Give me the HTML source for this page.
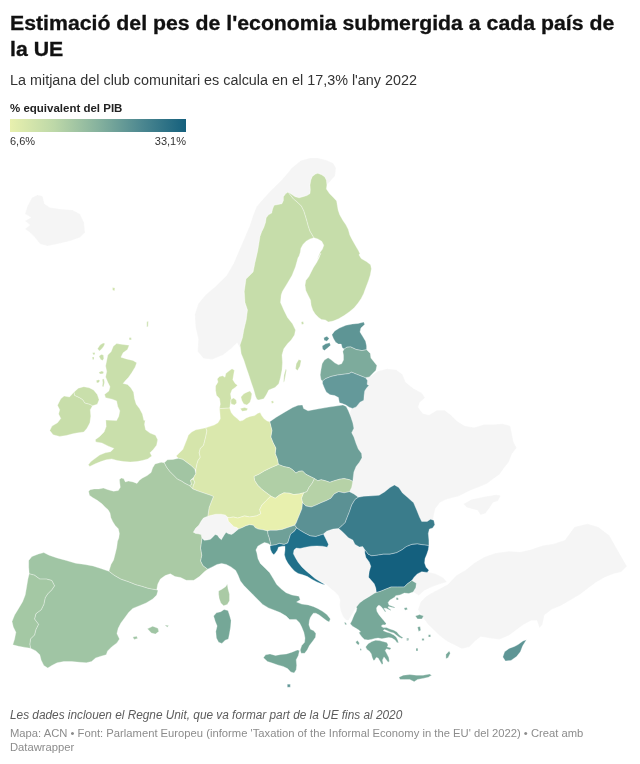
<!DOCTYPE html>
<html lang="ca">
<head>
<meta charset="utf-8">
<title>Estimació del pes de l'economia submergida a cada país de la UE</title>
<style>
html,body{margin:0;padding:0;background:#fff;}
body{width:640px;height:764px;position:relative;overflow:hidden;font-family:"Liberation Sans",sans-serif;color:#181818;}
.abs{position:absolute;white-space:nowrap;margin:0;padding:0;font-weight:normal;}
#title{left:10px;top:10px;font-size:20px;line-height:26px;font-weight:bold;color:#111;-webkit-text-stroke:0.3px #111;transform:scaleX(1.0632);transform-origin:0 0;}
#sub{left:10px;top:70px;font-size:14px;line-height:20px;color:#333;transform:scaleX(1.0265);transform-origin:0 0;}
#legt{left:10px;top:100.5px;font-size:11px;line-height:14px;font-weight:bold;color:#222;transform:scaleX(1.045);transform-origin:0 0;}
#grad{left:10px;top:119px;width:176px;height:13px;background:linear-gradient(90deg,#e8f0ae,#bdd8a8,#86b29e,#4c8790,#15607d);}
#lmin{left:10px;top:133.5px;font-size:11px;line-height:14px;color:#333;}
#lmax{left:150px;top:133.5px;width:36px;text-align:right;font-size:11px;line-height:14px;color:#333;}
#note{left:10px;top:708px;font-size:12px;line-height:15px;font-style:italic;color:#5c5c5c;transform:scaleX(0.985);transform-origin:0 0;}
#foot{left:10px;top:727px;font-size:11px;line-height:13.5px;color:#8c8c8c;transform:scaleX(1.021);transform-origin:0 0;}
#map{position:absolute;left:0;top:0;}
</style>
</head>
<body>
<svg id="map" width="640" height="764" viewBox="0 0 640 764">
<g stroke="#fff" stroke-opacity="0.65" stroke-width="0.5" stroke-linejoin="round">
<path id="c-IS" fill="#f5f5f5" d="M25,213.75L27.5,206L32,197.5L37.5,195L42.5,196L44.5,204L50,207.5L60,209L72.5,210L80,214L84,222.5L85,232.5L80,237.5L70,241L57.5,244L47.5,246L40,244L35,237.5L30,232.5L25,229L30,225L25,221L31,217.5Z"/>
<path id="c-NO" fill="#f5f5f5" d="M288.1,192L291.2,194.1L295.2,196.7L299.1,197.8L303,196.7L306.9,195.6L310,193.6L310.3,189.7L310,185L310.8,180.3L312.3,176.4L315.5,174.1L317.8,173.3L321.7,174.8L324.8,176.9L326.4,180.3L326.9,185L335,176L336,168L333,163L326,160L318,158L310,158L300.8,160.6L292,167.7L283.2,178.3L276.1,185.4L269,192.4L262.7,199.5L256.6,206.6L253.1,215.4L249.6,226L244.3,238.4L239,250.8L233.7,263.2L226.6,275.5L216,286.1L205.4,295L198.3,303.8L194.8,314.4L195.5,326.8L198.3,339.2L197.6,351.6L203.6,358.6L212.4,359.4L223,355.1L231.9,348L237.2,342.7L240,348L242.5,337.5L243.8,330L246.2,320L247.5,310L245,302.5L244.5,295L244.25,291.4L246,279.1L253.1,272L254.9,263.1L257.7,250.8L260,236.6L261.6,231.9L263.9,227.2L265.5,222.5L266.2,217.8L268.6,214.7L271.7,213.1L272.5,209.2L274.1,205.3L278,204.5L281.9,203.8L283.4,200.6L283.4,196.7L285.8,193.6L288.1,192Z"/>
<path id="c-CH" fill="#f5f5f5" d="M201.9,538.1L201.1,534.5L198,533.8L195.6,533.4L193.3,532.2L195.6,528.3L198.8,525.2L201.1,521.2L203.4,518.1L207.8,516.2L211.2,515.3L215.9,514.2L220.9,514.2L225.3,515L227.7,517.3L228.4,521.2L230.8,523.6L233.9,526.7L237,527.5L238.6,529.1L236.2,530.9L233.9,533L231.6,534.5L228.4,533.8L226.1,532.2L224.5,534.5L222.5,537.7L221.4,539.7L219.1,537.7L217.5,535.3L215.2,534.5L212.8,536.9L210.5,539.2L207.3,540L204.2,540.3Z"/>
<path id="c-BALK" fill="#f5f5f5" d="M327.2,547.2L328.5,544.4L327.2,541.6L325.3,537.8L323.4,534.1L326.6,531.2L333.1,529.1L338.6,528.6L341.9,531.2L345.2,534.5L348.4,537.8L352.8,540L355,544.4L359.4,547L362.7,546.6L364.8,549.8L364.8,553.1L365.9,557.5L369.2,561.9L370.8,566.2L369.2,571.7L368.6,577.2L371.4,580.5L374.2,583.8L375.8,588.1L376.4,592.5L376.4,592.5L374.8,593.1L369.4,596.4L363.9,599.7L359.5,603L356.2,607.3L348.4,620.6L345.6,619.7L342.8,615.9L340.9,611.2L339.6,605.6L340,600L338.1,595.3L334.4,591.6L329.7,587.8L325.9,584.1L320.6,581.9L315,578.5L310.3,574.4L305.6,570.6L301.9,566.9L298.1,562.2L295.3,557.5L293.4,553.8L294,550L296.2,548.1L300,548.5L305.6,547.2L311.2,546.2L316.9,545.9L322.5,546.2L327.2,547.2Z"/>
<path id="c-EAST" fill="#f5f5f5" d="M365.6,377.8L371.2,375.9L377.5,371.2L386.9,368.8L396.2,369.7L402.5,374.4L405.6,382.2L413.4,388.4L421.9,393.1L425,397.8L419.7,402.5L418.1,407.2L422.8,413.4L429.1,415L436.9,410.3L444.7,410.3L450.9,415L457.2,421.2L465,425.9L474.4,427.5L483.8,424.4L493.1,424.4L502.5,423.8L510.3,425.9L511.9,433.8L513.4,441.6L516.6,447.8L511.9,454.1L508.8,461.9L504.1,468.1L499.4,474.4L493.1,479.1L486.9,483.8L479.1,486.9L471.2,490L465,493.1L458.8,496.2L452.5,497.8L446.2,499.4L440,502.5L435.3,508.8L433.8,515L433.1,520L434.8,524.7L433.8,520.3L400,530L350,500L340,450L350,412L358,395ZM463.4,504.1L471.2,499.4L479.1,497.8L486.9,496.2L496.2,494.7L500.9,495.6L497.8,500.9L493.1,502.5L490,507.2L485.3,513.4L480.6,515L477.5,510.3L471.2,508.8L466.6,507.2Z"/>
<path id="c-TR" fill="#f5f5f5" d="M427.2,572.4L428.1,571.9L435.6,573.8L443.1,577.5L446.9,582L439.4,584.2L431.9,586.9L424.4,590.6L418.8,595.5L413.1,592L415.8,587.7L416.4,583.3L411.9,580.5L414.1,577.2L417.3,573.9L421.7,571.7L427.2,572.4ZM448,584.2L456.2,575.6L465.6,570L475,562.5L484.4,556.9L495.6,553.1L508.8,551.2L520,552L531.2,549.4L542.5,545.6L553.8,543.8L565,540L574.4,526.9L587.5,523.8L598.4,526.9L609.4,535.6L618.1,550.9L626.9,566.2L621.2,571.9L613.8,573.8L604.4,577.5L595,583.1L587.5,588.8L580,594.4L570.6,600L561.2,605.6L551.9,609.4L544.4,615L542.5,624.4L539.5,628.1L536.9,620.6L531.2,620.6L523.8,624.4L516.2,630L508.8,635.6L499.4,639.4L490,638.2L480.6,636.8L475,641.2L469.4,646.9L461.9,648.8L454.4,645L446.9,641.2L439.4,635.6L433.8,630L428.1,624.4L422.5,616.9L418,609.4L420.6,601.9L426.2,596.2L433.8,591.8L441.2,588Z"/>
<path id="c-SE" fill="#c6ddaa" d="M288.1,192L285.8,193.6L283.4,196.7L283.4,200.6L281.9,203.8L278,204.5L274.1,205.3L272.5,209.2L271.7,213.1L268.6,214.7L266.2,217.8L265.5,222.5L263.9,227.2L261.6,231.9L260,236.6L257.7,250.8L254.9,263.1L253.1,272L246,279.1L244.25,291.4L244.5,295L245,302.5L247.5,310L246.2,320L243.8,330L242.5,337.5L240,345L241.2,353.8L243.8,360L246.2,367.5L248.8,375L251.2,382.5L253.8,390L255.5,396.2L257,399.5L258.8,400L263.8,398.8L266.2,395L268.8,390L275,387.5L278.8,383.8L280.5,377.5L282,370L282.5,362.5L282,355L283.8,348.8L287.5,343.8L291.2,340L294.5,335L295.5,330L292.5,323.8L287.5,317.5L283.8,310L280.5,302.5L281.2,295L282.4,291.4L286.7,284.4L292,275.5L295.5,266.7L298,257.8L299.1,256.1L300.3,252.2L300.9,248.3L303,244.4L306.1,241.2L310,238.9L313.9,237.8L312.3,235L310,231.1L308.4,226.4L306.9,220.9L305.3,215.5L303.8,210.8L301.4,206.1L297.5,202.2L293.6,199.1L290.5,195.2L288.1,192ZM298.8,359.5L301.2,360.5L300,366.2L297.5,370.5L295.5,368.8L296.2,363.8ZM285.8,368.8L286.5,370L284.5,381.2L283.5,382.5L284,375Z"/>
<path id="c-FI" fill="#c6ddaa" d="M288.1,192L291.2,194.1L295.2,196.7L299.1,197.8L303,196.7L306.9,195.6L310,193.6L310.3,189.7L310,185L310.8,180.3L312.3,176.4L315.5,174.1L317.8,173.3L321.7,174.8L324.8,176.9L326.4,180.3L326.9,185L326.4,188.9L329.5,193.6L333.4,197.5L336.6,200.9L337.3,205.3L338.1,210L339.7,214.7L342.8,220.2L345.9,224.8L348.3,229.5L349.8,235L352.2,239.7L355.3,245.2L358.4,250.6L360,253.8L358.9,254.7L361.2,258.6L366.7,261.7L370.6,264.8L371.4,268.8L370.3,275L368.3,281.2L365.9,287.5L363.6,293.8L361.2,298.4L358.1,303.1L354.2,307.8L349.5,311.7L344.1,315.6L338.6,318.8L333.1,321.1L328.4,321.9L325.3,320L321.4,319.5L318.3,317.2L315.2,314.1L312.8,310.2L311.2,305.5L310.5,300L308.1,295.3L305.8,290.6L305,285.2L305.8,280.5L308.9,276.6L311.2,271.9L313.6,267.2L316.7,262.5L319.1,257.8L320.9,253.1L317,260L318.6,256.1L320.2,252.2L322.5,249.1L323.8,245.2L321.7,241.2L317.8,238.9L313.9,237.8L312.3,235L310,231.1L308.4,226.4L306.9,220.9L305.3,215.5L303.8,210.8L301.4,206.1L297.5,202.2L293.6,199.1L290.5,195.2L288.1,192ZM301.2,322L303.2,321.5L303.8,324L301.8,324.5Z"/>
<path id="c-DK" fill="#cfe2ab" d="M219.5,408.6L220.3,403.9L219.5,398.4L216.4,395.3L215.6,390.6L215.6,385.9L218,382L217.2,378.9L219.5,376.6L222.7,375.8L225,377.3L225.8,373.4L228.9,371.1L232,368.8L234.4,370.3L233.6,375L232.8,379.7L235.2,383.6L237.5,385.2L235.2,387.5L232,389.8L230.5,393.8L231.2,398.4L230.5,403.1L229.7,408.1ZM230.5,399.7L233.6,398.1L236.2,400L236.7,403.1L234.4,405L231.2,403.9ZM240.9,396.9L243.8,393.8L246.9,392.2L250,390.9L251.9,393.8L251.2,398.4L250,402.3L246.9,405L243.8,403.9L241.9,400.8ZM240.3,408.6L244.5,407.5L247.7,408.6L246.9,410.6L242.2,411.2ZM271.1,401.2L273.1,400.8L273.8,402.8L271.9,403.4ZM112.5,287.5L115,288L114.5,291L112.5,290Z"/>
<path id="c-GB" fill="#c9dfab" d="M113.3,346.2L116.6,343.6L123.1,344.5L129.2,345.2L127.5,349.5L123.1,352.8L120.9,357.2L126.4,358.9L133,360.5L136.7,362.7L135.2,367L131.9,372.5L128.6,377.3L125.3,380.8L123.1,383.4L127.5,384.5L130.8,387.8L133.6,392.2L134.5,398.8L136.2,404.2L139.5,408.6L142.4,414.1L143.9,420.6L145.2,420L144.5,424.4L145.6,429.8L150,433.1L155.5,435.3L157.7,439.7L156.6,445.2L153.3,449.5L150,452.8L151.8,456.1L147.8,458.9L142.3,460.5L136.9,461.6L130.3,462L123.8,461.6L117.2,460.5L111.7,458.9L106.2,459.8L100.8,461.6L95.3,463.8L89.8,466.4L88.3,464.8L90.9,461.6L95.3,458.3L99.7,455L105.2,452.8L110.6,451.7L113.9,448.4L108.4,446.2L101.9,443L95.8,441.9L95.3,439.7L99.7,436.4L104.1,432L106.2,426.6L105.8,420L116.6,420.6L118.8,416.2L119.8,410.8L117.7,406.4L116.6,400.9L112.2,399.2L105.6,397.7L104.5,394.4L108.9,391.1L110,386.7L107.8,382.3L105.6,376.9L106.7,371.4L105.6,365.9L106.7,360.5L107.8,355L111.1,351.7ZM97.5,348.8L100,345L103.1,343.1L105,343.5L103.8,346.2L101.9,348.8L99.4,351ZM99,356.2L101.2,354.4L103.5,355L103.8,358.8L102.5,360.6L100.6,359.4ZM92.5,352.8L94.8,352.5L95,354.4L93.1,354.8ZM92.2,356.9L94,356.9L94,359.4L92.5,359.4ZM98.8,372.2L101.9,371L103.8,371.9L103.1,373.8L100,374ZM96.2,380.6L98.5,379.8L100,380.6L98.8,382.5L96.9,383.1ZM102.2,379.4L104,378.8L104.5,382.5L103.5,386.9L102.2,386.2L102.8,382.5ZM129,337.8L131.2,337.5L131.5,339.8L129.4,340ZM146.8,321.8L148.3,321.3L148.1,326.6L146.8,327ZM74.6,395.5L73.9,392.2L78.3,388.2L83.8,386.7L89.2,387.8L93.6,390L97.3,394.4L99.1,399.8L97.3,404.2L92.5,405.8L89.2,404.2L84.8,403.1L82.7,399.8L79.4,397.7Z"/>
<path id="c-IE" fill="#c8deaa" d="M73.9,392.2L74.6,395.5L79.4,397.7L82.7,399.8L84.8,403.1L89.2,404.2L92.5,405.8L90.3,409.7L90.8,416.2L89.9,422.8L87,428.3L83.8,432L78.3,432.7L72.8,433.8L66.2,435.5L59.7,436.4L53.1,434.8L49.8,430.5L52,426.1L57.5,422.8L60.8,418.4L58.6,414.1L59.7,409.7L57.5,405.3L60.8,398.8L64.1,396.1L69.5,397Z"/>
<path id="c-NL" fill="#d5e5ab" d="M176.2,456.1L179.5,452.8L182.8,449.5L185,444.1L187.2,438.6L188.3,435.3L191.6,432L195.9,429.8L201.4,428.8L205.8,427.7L206.9,430.9L205.8,436.4L204.7,440.8L203.6,445.2L200.3,448.4L199.2,452.8L200.3,457.2L198.1,460.5L197,463.8L195.9,469.2L194.8,469.2L191.6,465.9L187.2,462.7L182.8,459.4L178.4,458.3Z"/>
<path id="c-BE" fill="#a2c5a3" d="M164.2,462.7L167.5,459.8L173,459.4L178.4,458.3L182.8,459.4L187.2,462.7L191.6,465.9L194.8,469.2L195.9,473.6L193.8,477.3L190.5,480.2L191.6,484.5L189.4,485.6L185,483.4L181.7,481.2L177.3,479.1L174.1,475.8L169.7,471.4L166.4,467Z"/>
<path id="c-LU" fill="#c6ddaa" d="M190.5,480.2L193.3,479.1L194.8,482.3L193.3,485.6L192.7,488.9L189.4,485.6L191.6,484.5Z"/>
<path id="c-ES" fill="#a0c5a4" d="M28.7,560.5L31.9,556.6L38.5,553.9L43.8,552.6L49.1,555.2L57.1,557.9L66.4,560.5L75.7,563.2L85,564.5L93,565.9L100.9,568.5L108.9,571.2L114.2,575.2L120.9,579.1L128.8,581.8L135.5,584.5L142.1,586.3L148.8,588.4L156.7,589.8L158,590.6L156.7,595.1L152.7,599.1L146.1,603L139.5,605.7L132.8,608.4L128.8,612.3L124.8,617.7L120.9,623L118.2,628.3L116.9,633.6L119.5,638.9L116.9,642.9L111.6,646.9L107.6,650.9L106.2,654.8L100.9,656.2L95.6,658L91.6,661.5L86.3,662.8L79.7,662.3L71.7,661.5L63.8,661.5L57.1,662.8L51.8,665.5L47.8,668.1L43.8,665.5L41.2,660.2L39.8,654.8L35.9,650.9L30.5,648.2L29.8,644.2L30.5,638.9L34.5,634.9L35.9,629.6L38.5,624.3L34.5,619L35.9,613.7L41.2,609.7L43.8,604.4L45.2,597.7L47.8,593.8L51.8,589.8L54.5,585.8L51.8,580.5L46.5,579.1L39.8,579.1L34.5,575.2L29.2,573.8L28.7,567.2ZM147.4,628.8L152.7,626.2L158,628.3L158.8,631.5L155.4,634.1L151.4,633.1ZM164.7,625.1L168.7,625.6L167.3,627.2ZM132.8,637L136.8,636.2L137.6,638.4L134.1,639.4Z"/>
<path id="c-PT" fill="#a4c8a4" d="M29.2,573.8L34.5,575.2L39.8,579.1L46.5,579.1L51.8,580.5L54.5,585.8L51.8,589.8L47.8,593.8L45.2,597.7L43.8,604.4L41.2,609.7L35.9,613.7L34.5,619L38.5,624.3L35.9,629.6L34.5,634.9L30.5,638.9L29.8,644.2L30.5,648.2L25.2,647.4L18.6,646.3L12.8,644.8L14.6,638.9L15.9,632.3L13.3,627L12,621.6L14.6,615L18.6,608.4L22.6,601.7L25.2,595.1L26.6,587.1L27.9,579.1Z"/>
<path id="c-PL" fill="#6d9f98" d="M269.7,421.7L276.2,417.3L285,411.9L292.7,407.5L298.1,405.3L302.5,404.9L303.6,408.6L308,410.8L313.4,409.7L320,408.6L328.8,407.1L337.5,405.8L343,404.9L346.2,406.4L346.2,406.4L348.4,410.8L350.6,416.2L352.8,422.8L353.9,428.3L351.7,432.7L353.9,437L356.1,443.6L358.3,449.1L361.6,453.4L362,457.8L359.4,462.2L356.1,466.6L353.9,472L353.2,477.5L352.8,481.4L352.8,481.4L349.5,479.7L344.1,478.6L339.7,479.2L334.2,480.8L329.8,482.3L325.5,480.8L321.1,479.7L317.8,480.8L314.5,478.6L314.5,478.6L310.2,476.4L305.8,474.2L302.5,470.9L298.6,471.4L295.9,473.1L292.7,469.8L289.4,467.7L283.9,466.6L278.4,464.4L278.4,464.4L277.3,458.9L275.2,453.4L275.8,448L273,442.5L270.8,437L271.9,430.5L270.8,426.1L269.7,421.7Z"/>
<path id="c-CZ" fill="#b0cfa6" d="M278.4,464.4L283.9,466.6L289.4,467.7L292.7,469.8L295.9,473.1L298.6,471.4L302.5,470.9L305.8,474.2L310.2,476.4L314.5,478.6L314.5,478.6L312.3,483L309.1,487.3L306.9,491.7L303.6,492.8L303.6,492.8L299.2,493.9L293.8,494.6L289.4,493.2L283.9,492.8L279.5,495L275.2,498.3L270.8,496.1L270.8,496.1L266.4,492.8L262,489.5L257.7,485.2L254.8,480.8L253.9,476.4L258.8,474.2L264.2,470.9L270.8,467.7L278.4,464.4Z"/>
<path id="c-SK" fill="#b6d2a7" d="M314.5,478.6L317.8,480.8L321.1,479.7L325.5,480.8L329.8,482.3L334.2,480.8L339.7,479.2L344.1,478.6L349.5,479.7L352.8,481.4L352.8,481.4L351.7,487.3L349.5,491.7L349.5,491.7L344.1,492.8L338.6,491.7L334.2,493.9L330.9,498.3L326.6,500.5L321.1,502.7L316.7,504.8L311.2,507L305.8,505.9L302.5,502.7L302.5,502.7L301.4,498.3L303.6,492.8L303.6,492.8L306.9,491.7L309.1,487.3L312.3,483L314.5,478.6Z"/>
<path id="c-DE" fill="#dae8ad" d="M205.8,427.7L209.4,426.6L214.1,425L218,422.7L220.3,418.8L220,414.1L219.5,408.6L229.7,408.1L231.2,412.5L233.6,415.6L237.5,418.8L239.8,421.1L243,420.3L246.1,418L250,416.4L254.7,415.6L257.8,413.3L260.2,412.5L261.7,415.6L264.1,418.8L267.2,421.1L269.7,421.7L269.7,421.7L270.8,426.1L271.9,430.5L270.8,437L273,442.5L275.8,448L275.2,453.4L277.3,458.9L278.4,464.4L278.4,464.4L270.8,467.7L264.2,470.9L258.8,474.2L253.9,476.4L254.8,480.8L257.7,485.2L262,489.5L266.4,492.8L270.8,496.1L270.8,496.1L266.2,500.6L261.9,505L259.7,509.4L260.8,513.8L256.4,515.9L249.8,517L244.4,515.9L237.8,518.1L233.4,517L229.1,517.7L227.7,517.3L227.7,517.3L225.3,515L220.9,514.2L215.9,514.2L211.2,515.3L207.8,516.2L207.8,516.2L209.1,507.5L211.2,502L213.4,496.6L211.2,495.5L204.7,493.3L198.1,491.1L192.7,488.9L192.7,488.9L193.3,485.6L194.8,482.3L193.3,479.1L193.3,479.1L193.8,477.3L195.9,473.6L195.9,469.2L195.9,469.2L197,463.8L198.1,460.5L200.3,457.2L199.2,452.8L200.3,448.4L203.6,445.2L204.7,440.8L205.8,436.4L206.9,430.9L205.8,427.7Z"/>
<path id="c-AT" fill="#e8f0ae" d="M270.8,496.1L275.2,498.3L279.5,495L283.9,492.8L289.4,493.2L293.8,494.6L299.2,493.9L303.6,492.8L303.6,492.8L301.4,498.3L302.5,502.7L301.9,508.8L300,513.4L298.1,518.1L296.2,522.8L294.8,525.2L294.8,525.2L287.8,527.5L282.2,529.4L276.6,530.3L270,530.3L267.5,530.9L262.8,529.8L258.1,529.1L255,527.5L253.4,525.2L249.5,524.7L245.6,525.9L242.5,527.5L238.6,529.1L237,527.5L233.9,526.7L230.8,523.6L228.4,521.2L227.7,517.3L229.1,517.7L233.4,517L237.8,518.1L244.4,515.9L249.8,517L256.4,515.9L260.8,513.8L259.7,509.4L261.9,505L266.2,500.6L270.8,496.1Z"/>
<path id="c-HU" fill="#5b9194" d="M302.5,502.7L305.8,505.9L311.2,507L316.7,504.8L321.1,502.7L326.6,500.5L330.9,498.3L334.2,493.9L338.6,491.7L344.1,492.8L349.5,491.7L353.9,493.9L358.3,497.2L355,499.5L351.7,505L349.5,511.6L347.3,517L345.2,522.5L341.9,525.8L338.6,528.6L333.1,529.1L326.6,531.2L323.4,534.1L320.6,535L315.9,536.5L310.3,535.9L304.7,533.1L300,530.3L296.6,527.9L294.8,525.2L294.8,525.2L296.2,522.8L298.1,518.1L300,513.4L301.9,508.8L302.5,502.7Z"/>
<path id="c-SI" fill="#6fa098" d="M294.8,525.2L287.8,527.5L282.2,529.4L276.6,530.3L270,530.3L267.5,530.9L267.8,534.1L269.1,537.8L270,541.6L270.9,545.5L275.6,544.8L279.4,543.4L284.1,544.4L287.8,542.9L289.1,538.8L290.6,534.1L294.4,531.2L296.6,527.9L294.8,525.2Z"/>
<path id="c-HR" fill="#20708a" d="M296.6,527.9L300,530.3L304.7,533.1L310.3,535.9L315.9,536.5L320.6,535L323.4,534.1L325.3,537.8L327.2,541.6L328.5,544.4L327.2,547.2L322.5,546.2L316.9,545.9L311.2,546.2L305.6,547.2L300,548.5L296.2,548.1L294,550L293.4,553.8L295.3,557.5L298.1,562.2L301.9,566.9L305.6,570.6L310.3,574.4L315,578.5L320.6,581.9L325.3,584.7L322.5,584.3L316.9,581.9L312.2,579.6L307.5,576.6L302.8,574.8L298.1,573.4L294.4,571L291,567.2L287.8,563.1L285.6,559L284.4,554.7L285,550L285,546.2L282.2,546.2L278.4,547.2L277.5,550L275.6,552.8L273.8,554.7L271.9,552.8L270.4,549.6L270,546.2L270.9,545.5L275.6,544.8L279.4,543.4L284.1,544.4L287.8,542.9L289.1,538.8L290.6,534.1L294.4,531.2L296.6,527.9Z"/>
<path id="c-RO" fill="#3a7c8b" d="M358.3,497.3L363.8,496.2L372.5,495.8L379.1,495.2L384.5,491.9L390,487.5L394.4,484.9L398.8,487.5L402.5,493L407.5,497.3L413.6,502.8L416.9,510.5L419.5,517L421.7,521.4L427.2,521.4L430.5,519.2L433.8,520.3L434.8,524.7L432.7,528L429.4,529.1L428.3,533.4L428.9,540L428.9,545.5L422.8,544.8L417.3,543.9L411.9,544.4L406.4,546.6L402,549.8L396.6,552.7L390,554.2L383.4,554.2L376.9,555.3L371.4,555.8L368.1,554.2L364.8,549.8L362.7,546.6L359.4,547L355,544.4L352.8,540L348.4,537.8L345.2,534.5L341.9,531.2L338.6,528.6L341.9,525.8L345.2,522.5L347.3,517L349.5,511.6L351.7,505L355,499.5L358.3,497.3Z"/>
<path id="c-BG" fill="#14607e" d="M364.8,549.8L368.1,554.2L371.4,555.8L376.9,555.3L383.4,554.2L390,554.2L396.6,552.7L402,549.8L406.4,546.6L411.9,544.4L417.3,543.9L422.8,544.8L428.9,545.5L428.3,549.8L426.8,554.2L425,558.6L424.6,563L426.1,567.3L428.9,570.2L427.2,572.4L421.7,571.7L417.3,573.9L414.1,577.2L411.9,580.5L407.5,583.8L404.2,587L397.7,587L391.1,587L385.6,589.2L380.2,591.4L376.4,592.5L375.8,588.1L374.2,583.8L371.4,580.5L368.6,577.2L369.2,571.7L370.8,566.2L369.2,561.9L365.9,557.5L364.8,553.1L364.8,549.8Z"/>
<path id="c-EE" fill="#5e9595" d="M331.9,334.7L334.7,330.9L339.4,328.1L345.9,325.3L352.5,324L358.1,323.4L363.8,322.1L364.7,324.4L360.9,328.1L360,331.9L362.8,336.6L365.6,341.2L366.6,345.9L366.6,349.7L361.9,350.6L356.2,349.5L350.6,346.9L346.9,347.2L344.1,349.1L342.2,347.8L341.2,344.1L338.4,344.1L335.6,342.2L333.4,338.4ZM323.8,337.8L326.9,336.2L329.1,338.6L326.9,341.2L324.1,340.3ZM322.2,345.9L325.6,343.8L329.7,342.8L330.6,345.3L327.5,348.1L324.4,350.6L322.5,349.1Z"/>
<path id="c-LV" fill="#7dab9c" d="M322.5,381L321,379.7L320.2,375L321,369.4L322.1,363.8L324.4,360L328.1,357.8L330.9,359.6L334.7,362.8L338.4,364.7L341.6,363.8L343.5,360L343.5,355.3L342.8,351.6L344.1,349.1L346.9,347.2L350.6,346.9L356.2,349.5L361.9,350.6L366.6,349.7L370.3,353.4L370.9,358.1L374.1,361.9L376.9,365.6L375.9,370.3L372.2,374.1L369.4,376.9L365.6,377.8L360.9,375.9L356.2,374.1L351.6,372.2L349.1,373.5L345,374.1L337.5,375L330.9,376.5L325.3,378.8L322.5,381Z"/>
<path id="c-LT" fill="#64999a" d="M322.5,381L325.3,378.8L330.9,376.5L337.5,375L345,374.1L349.1,373.5L351.6,372.2L356.2,374.1L360.9,375.9L365.6,377.8L367.5,380.6L367.1,384.4L369,385.3L366.6,388.1L364.7,390.9L364.1,395.6L363.8,400.3L360,402.2L356.2,406.9L352.5,408.4L349.1,407.2L345.9,405L342.2,403.5L339.4,402.8L338.4,397.5L334.7,395.6L330,394.7L326.2,391.9L324,387.2L322.5,383.4Z"/>
<path id="c-IT" fill="#75a797" d="M201.9,538.1L204.2,540.3L207.3,540L210.5,539.2L212.8,536.9L215.2,534.5L217.5,535.3L219.1,537.7L221.4,539.7L222.5,537.7L224.5,534.5L226.1,532.2L228.4,533.8L231.6,534.5L233.9,533L236.2,530.9L238.6,529.1L242.5,527.5L245.6,525.9L249.5,524.7L253.4,525.2L255,527.5L258.1,529.1L262.8,529.8L267.5,530.9L267.8,534.1L269.1,537.8L270,541.6L270.9,545.5L268.1,543.4L264.4,542.5L260.6,544.4L257.8,546.2L255.9,550L256.8,552.8L258,558.7L260.3,563.4L265,568L269.7,572.7L273.2,578.6L276.7,584.5L281.4,589.1L286.1,592.7L292,595L299,596.2L300.2,599.7L296.6,602L301.7,604.1L308.3,604.9L313.8,606.7L318.1,608.7L322.5,611.3L326.9,614.6L330.4,618.9L329.1,622L326.4,620.5L322.5,617.6L319.2,615L315.9,613.2L313.3,613.2L310.5,617.2L309.4,620.5L308.9,624.8L310.5,629.2L313.8,630.8L315.9,633.6L315.5,637.3L312.7,641.2L309.4,645.6L307.2,650L304.6,653.3L301.1,653.3L300.2,650L301.7,645.6L304.6,642.3L305,638L303.9,632.5L301.7,627L299.5,622.7L296.2,619.4L289.6,619.6L286.1,616.1L280.2,612.6L274.4,610.2L268.5,607.9L262.7,604.4L258,599.7L253.3,595L248.6,590.3L243.9,585.6L240.4,580.9L238,575.1L235.7,570.4L231,566.9L226.3,564.5L221.6,563.4L217,564.5L212.3,566.9L207.6,569.2L202.9,565.7L200.5,561L201.7,555.2L200.5,548.1L201.9,538.1ZM263.4,657.7L265.6,654.8L270,653.9L275.5,655.5L280.9,654.4L286.4,653.9L291.9,652.2L297.3,650L299.5,650.4L298.4,655.5L296.2,659.8L296.7,665.3L296.2,669.7L294.1,673L290.8,671.9L287.5,668.6L283.1,666.4L277.7,664.9L272.2,663.1L267.4,661.4ZM213.6,616.1L216.4,612.8L220.8,611.7L224.1,609.5L228,610.6L229.5,615L231.1,620.5L230.6,627L229.5,633.6L228.4,639.1L225.2,640.2L221.9,643.4L218.6,642.3L216.4,638L215.8,631.4L217.1,625.9L215.3,621.6Z"/>
<path id="c-MT" fill="#5e9595" d="M287.3,684.2L290.3,684.2L290.3,687.2L287.3,687.2Z"/>
<path id="c-GR" fill="#77a899" d="M356.2,607.3L359.5,603L363.9,599.7L369.4,596.4L374.8,593.1L376.4,592.5L380.2,591.4L385.6,589.2L391.1,587L397.7,587L404.2,587L407.5,583.8L411.9,580.5L416.4,583.3L415.8,587.7L413.1,592L408.8,593.6L404.4,593.1L400,594.9L395.6,595.8L395,596.9L392.5,598.5L390,600L388.1,602.5L389,605L395,607.2L394.5,608L388.5,606.5L388.1,607.8L391.2,610L390.6,610.6L386,608.2L383.8,608.2L386,611.5L385.2,611.9L381.9,607.5L379.8,605.6L378.1,605.6L376.5,608.1L376.9,611.2L378.8,614.4L381.2,617.5L383.8,620.6L386.2,623.5L385.2,625L382.8,624.8L381.2,626L383.1,627.5L386.5,627.5L390,629L393.8,630.2L396.9,631.9L398.8,634.4L401.2,636.5L403.1,637.5L401.9,638.5L398.8,636.9L396.2,635L393.8,633.1L390,631.9L386.9,630.6L384.4,629.4L383.1,630.6L386.2,631.9L390,633.1L393.8,635L396.2,636.9L397.8,640L398.5,643.1L396.9,642.5L395,640L391.9,638.1L388.8,637.5L385.6,638.1L381.9,638.8L378.1,638.1L375,638.5L371.2,639.4L368.1,640L364.4,639.4L361.9,636.9L360,634.4L358.8,632.5L360.6,631.9L358.8,630L355.6,628.1L352.5,626.2L350.2,623.8L351.9,620.6L353.1,617.5L354.4,614.4L356.2,611.2L356.9,608.1ZM365.6,646.9L368.1,643.8L371.9,641.5L375.6,640.2L379.4,640.6L383.1,641.5L386.9,642.5L388.1,645L387.2,646.9L390,647.5L391.2,648.8L389.4,649.8L386.5,648.8L385.2,650.6L386.9,653.8L388.8,657.5L389.4,661.2L388.1,662.2L386,659.4L384,656.9L382.5,660L383.1,663.8L381.9,664.4L380,661.2L378.1,658.1L376.2,657.5L374.8,660L373.5,660.6L372.2,657.5L371.2,653.8L369.4,651.2L366.9,649.4ZM398.9,677.3L403.3,675.2L409.8,674.5L416.4,675.2L423,675.2L429.5,674.1L431.7,675.2L428.4,677.3L423,678.4L417.5,679.5L414.2,681.7L409.8,679.5L404.4,679.5L400,679.5ZM344.4,621.9L346.2,623.1L346.5,625L345,624.4ZM355.6,641.9L357.5,640.6L359.4,643.1L358.8,645L356.9,644ZM360,648.5L361.5,649L361.2,650.6L360,650.2ZM396,597.8L398.1,597.8L398.5,599.8L396.5,600ZM404,608.1L406.9,607.5L407.5,609.4L405,610.2ZM406.5,639L408.5,639.8L408,641L406.5,640.2ZM415.3,616.1L419.7,614.6L423.6,616.1L421.9,618.9L417.5,618.9ZM417.5,627L420.1,626.4L420.8,630.3L418.6,631.4ZM445.9,654.4L449.2,651.1L450.3,653.3L448.1,657.7L445.9,658.8ZM428.4,634.7L430.6,634.7L430.6,636.9L428.4,636.9ZM406.6,638.2L408.8,638.2L408.8,640.2L406.6,640.2ZM421.9,638.6L424.1,638.6L424.1,640.4L421.9,640.4ZM416,648.2L417.9,648.2L417.9,650.9L416,650.9Z"/>
<path id="c-CY" fill="#5e9595" d="M502.8,657L504.6,651.8L509.1,648.4L514.4,646.5L518.1,644.6L523,640.9L526.4,639.8L522.6,646.1L520.4,651.8L516.6,656.6L511,660.4L505.4,661.1Z"/>
<path id="c-FR" fill="#aacaa5" d="M164.2,462.7L161.2,462.3L155,463.9L152.7,467.8L151.1,472.5L147.2,475.6L142.5,478L139.4,480.3L137,483.4L133.1,481.9L128.4,481.1L125.3,481.9L123.8,478.8L121.4,478L119.4,479.5L119.8,483.4L120.3,487.3L118.3,490.5L113.6,491.2L108.1,489.7L103.4,488.1L98.8,488.9L94.1,488.9L90.2,489.7L88.6,491.2L89.4,495.2L92.5,497.5L97.2,500.3L101.9,503.8L105,506.9L108.1,509.7L110,513.1L110.9,517.8L112.8,521.7L115.2,525.6L118.3,528.8L119.4,533.4L118.8,538.1L117.5,541.2L116.7,547.5L115.2,553.8L113.6,560L111,564.5L108.9,571.2L114.2,575.2L120.9,579.1L128.8,581.8L135.5,584.5L142.1,586.3L148.8,588.4L156.7,589.8L157.8,584.1L160.4,579L165.2,575.6L170.3,573.8L175,576.6L180.6,577.5L186.2,580.3L193.8,580.3L199.4,576.6L204.1,571.9L207.6,569.2L202.9,565.7L200.5,561L201.7,555.2L200.5,548.1L201.9,538.1L201.1,534.5L198,533.8L195.6,533.4L193.3,532.2L195.6,528.3L198.8,525.2L201.1,521.2L203.4,518.1L207.8,516.2L209.1,507.5L211.2,502L213.4,496.6L211.2,495.5L204.7,493.3L198.1,491.1L192.7,488.9L189.4,485.6L185,483.4L181.7,481.2L177.3,479.1L174.1,475.8L169.7,471.4L166.4,467ZM218.6,590.9L221.9,589.2L225.8,586.6L227.3,583.9L228,588.8L229.5,594.2L229.5,600.8L227.3,604.5L223.6,605.8L220.8,603L219.2,598.6L218.6,594.2Z"/>
</g>
</svg>
<h1 id="title" class="abs"><span id="t1">Estimació del pes de l'economia submergida a cada país de</span><br><span id="t2">la UE</span></h1>
<p id="sub" class="abs"><span id="s1">La mitjana del club comunitari es calcula en el 17,3% l'any 2022</span></p>
<div id="legt" class="abs"><span id="l1">% equivalent del PIB</span></div>
<div id="grad" class="abs"></div>
<div id="lmin" class="abs"><span id="l2">6,6%</span></div>
<div id="lmax" class="abs"><span id="l3">33,1%</span></div>
<p id="note" class="abs"><span id="n1">Les dades inclouen el Regne Unit, que va formar part de la UE fins al 2020</span></p>
<footer id="foot" class="abs"><span id="f1">Mapa: ACN • Font: Parlament Europeu (informe 'Taxation of the Informal Economy in the EU' del 2022) • Creat amb</span><br><span id="f2">Datawrapper</span></footer>
</body>
</html>
